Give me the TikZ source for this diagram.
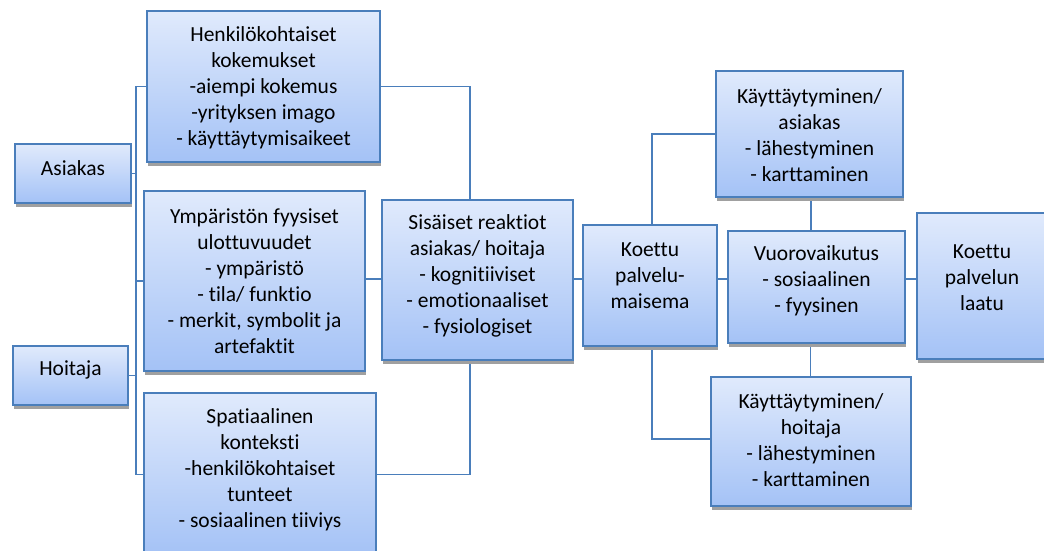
\documentclass[tikz,border=0pt]{standalone}
\usepackage{fontspec}
\setmainfont{Carlito}[Ligatures=NoCommon]
\usetikzlibrary{positioning,shadows,backgrounds}
\definecolor{BoxEdge}{HTML}{4A7EBB}
\definecolor{BoxTop}{HTML}{E0EAFC}
\definecolor{BoxBottom}{HTML}{A4C2F6}
\definecolor{Shade}{HTML}{A0A0A0}

\begin{document}
\begin{tikzpicture}[x=1pt, y=-1pt,
  box/.style={draw=BoxEdge, line width=2.2pt, top color=BoxTop, bottom color=BoxBottom,
    drop shadow={shadow xshift=1pt, shadow yshift=-4pt, fill=Shade, opacity=1},
    inner sep=0pt},
  txt/.style={align=center, inner sep=0pt, font=\fontsize{21.5}{26}\selectfont},
  link/.style={draw=BoxEdge, line width=1.6pt}]
  \useasboundingbox (0,0) rectangle (1044,551);
  % actors on the left
  \node[box, minimum width=116pt, minimum height=59pt] (asiakas) at (73,173.5) {};
  \node[txt] (asiakas-t) at (73,168) {Asiakas};
  \node[box, minimum width=115pt, minimum height=59pt] (hoitaja) at (70.5,375.5) {};
  \node[txt] (hoitaja-t) at (70.5,370) {Hoitaja};
  % the three dimensions of the surroundings
  \node[box, minimum width=233pt, minimum height=151pt] (henk) at (263.5,86.5) {};
  \node[txt] (henk-t) at (263.5,88)
    {Henkilökohtaiset\\kokemukset\\-aiempi kokemus\\-yrityksen imago\\- käyttäytymisaikeet};
  \node[box, minimum width=221pt, minimum height=180pt] (ymp) at (254.5,281) {};
  \node[txt] (ymp-t) at (254.5,281)
    {Ympäristön fyysiset\\ulottuvuudet\\- ympäristö\\- tila/ funktio\\- merkit, symbolit ja\\artefaktit};
  \node[box, minimum width=232pt, minimum height=163pt] (spat) at (260,474.5) {};
  \node[txt] (spat-t) at (260,470)
    {Spatiaalinen\\konteksti\\-henkilökohtaiset\\tunteet\\- sosiaalinen tiiviys};
  % middle
  \node[box, minimum width=191pt, minimum height=160pt] (sis) at (477.5,280) {};
  \node[txt] (sis-t) at (477.5,276)
    {Sisäiset reaktiot\\asiakas/ hoitaja\\- kognitiiviset\\- emotionaaliset\\- fysiologiset};
  \node[box, minimum width=134pt, minimum height=121pt] (maisema) at (650,285.5) {};
  \node[txt] (maisema-t) at (650,276) {Koettu\\palvelu-\\maisema};
  % right side
  \node[box, minimum width=187pt, minimum height=126pt] (kasiakas) at (809.5,134) {};
  \node[txt] (kasiakas-t) at (809.5,135.5)
    {Käyttäytyminen/\\asiakas\\- lähestyminen\\- karttaminen};
  \node[box, minimum width=177pt, minimum height=112pt] (vuoro) at (816.5,287) {};
  \node[txt] (vuoro-t) at (816.5,281) {Vuorovaikutus\\- sosiaalinen\\- fyysinen};
  \node[box, minimum width=200pt, minimum height=129pt] (khoitaja) at (811,441.5) {};
  \node[txt] (khoitaja-t) at (811,440.5)
    {Käyttäytyminen/\\hoitaja\\- lähestyminen\\- karttaminen};
  \node[box, minimum width=130pt, minimum height=146pt] (laatu) at (982,286) {};
  \node[txt] (laatu-t) at (982,278) {Koettu\\palvelun\\laatu};
  % connectors, kept behind the shadows
  \coordinate (bus) at (136,0);
  \coordinate (axis) at (0,279);
  \begin{scope}[on background layer]
    \draw[link] (henk.west) -| (bus |- spat.west) -- (spat.west);
    \draw[link] (ymp.west) -- (ymp.west -| bus);
    \draw[link] (asiakas.east) -- (asiakas.east -| bus);
    \draw[link] (hoitaja.east) -- (hoitaja.east -| bus);
    \draw[link] (henk.east) -| ([xshift=-7.5pt]sis.north);
    \draw[link] (spat.east) -| ([xshift=-7.5pt]sis.south);
    \draw[link] (ymp.east |- axis) -- (sis.west |- axis);
    \draw[link] (sis.east |- axis) -- (maisema.west |- axis);
    \draw[link] ([xshift=2pt]maisema.north) |- (kasiakas.west);
    \draw[link] ([xshift=2pt]maisema.south) |- ([yshift=2.5pt]khoitaja.west);
    \draw[link] (maisema.east |- axis) -- (vuoro.west |- axis);
    \draw[link] (vuoro.east |- axis) -- (laatu.west |- axis);
    \draw[link] ([xshift=1.5pt]kasiakas.south) -- ([xshift=1.5pt]kasiakas.south |- vuoro.north);
    \draw[link] ([xshift=-6pt]vuoro.south) -- ([xshift=-6pt]vuoro.south |- khoitaja.north);
  \end{scope}
\end{tikzpicture}
\end{document}
